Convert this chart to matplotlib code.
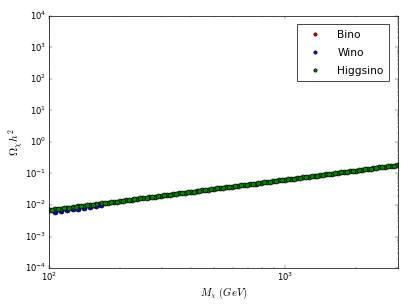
import matplotlib
matplotlib.use('Agg')
import matplotlib.pyplot as plt

# Higgsino-like points, two interleaved scans across the whole mass range
higgsino_mass_a = [100, 106, 112, 119, 126, 133, 141, 149, 158, 168, 178, 188, 200, 211, 224,
                   237, 251, 266, 282, 299, 316, 335, 355, 376, 398, 422, 447, 473, 501, 531,
                   562, 596, 631, 668, 708, 750, 794, 841, 891, 944, 1000, 1059, 1122, 1189, 1259,
                   1334, 1413, 1496, 1585, 1679, 1778, 1884, 1995, 2113, 2239, 2371, 2512, 2661, 2818, 2985]
higgsino_omega_a = [0.0068, 0.0072, 0.0076, 0.0080, 0.0085, 0.0090, 0.0095, 0.0101, 0.0106, 0.0113,
                    0.0119, 0.0126, 0.0133, 0.0141, 0.0149, 0.0157, 0.0166, 0.0176, 0.0186, 0.0197,
                    0.0208, 0.0220, 0.0233, 0.0246, 0.0260, 0.0275, 0.0291, 0.0307, 0.0325, 0.0344,
                    0.0364, 0.0384, 0.0406, 0.0430, 0.0454, 0.0481, 0.0508, 0.0537, 0.0568, 0.0601,
                    0.0635, 0.0672, 0.0710, 0.0751, 0.0794, 0.0840, 0.0888, 0.0939, 0.0993, 0.105,
                    0.111, 0.117, 0.124, 0.131, 0.139, 0.147, 0.155, 0.164, 0.174, 0.184]
higgsino_mass_b = [103, 109, 116, 122, 130, 137, 145, 154, 173, 183, 194, 205, 218, 230,
                   244, 259, 274, 290, 307, 325, 345, 365, 387, 410, 434, 460, 487, 516, 546,
                   579, 613, 649, 688, 729, 772, 818, 866, 917, 972, 1029, 1090, 1155, 1223, 1296,
                   1373, 1454, 1540, 1631, 1728, 1830, 1939, 2054, 2175, 2304, 2441, 2586, 2739, 2900]
higgsino_omega_b = [0.0070, 0.0074, 0.0078, 0.0083, 0.0087, 0.0092, 0.0098, 0.0103, 0.0116,
                    0.0122, 0.0129, 0.0137, 0.0145, 0.0153, 0.0162, 0.0171, 0.0181, 0.0191, 0.0202,
                    0.0214, 0.0226, 0.0239, 0.0253, 0.0267, 0.0283, 0.0299, 0.0316, 0.0334, 0.0354,
                    0.0374, 0.0395, 0.0418, 0.0442, 0.0467, 0.0494, 0.0522, 0.0552, 0.0584, 0.0618,
                    0.0653, 0.0691, 0.0730, 0.0772, 0.0816, 0.0863, 0.0913, 0.0965, 0.102, 0.108,
                    0.114, 0.121, 0.128, 0.135, 0.143, 0.151, 0.160, 0.169, 0.179]

bino_mass = [100, 163]
bino_omega = [0.0068, 0.0110]

wino_mass = [106, 112, 119, 126, 133, 141, 149, 158, 166]
wino_omega = [0.0061, 0.0064, 0.0068, 0.0072, 0.0076, 0.0081, 0.0086, 0.0091, 0.0100]

plt.style.use('classic')
fig = plt.figure(figsize=(409 / 51.2, 307 / 51.2), dpi=51.2, facecolor='white')
ax = fig.add_subplot(111)
fig.subplots_adjust(left=0.12, right=0.972, bottom=0.127, top=0.948)

style = dict(linestyle='none', marker='o', mec='k', mew=1.0, ms=7)
ax.plot(bino_mass, bino_omega, color='r', label='Bino', **style)
ax.plot(wino_mass, wino_omega, color='b', label='Wino', **style)
ax.plot(higgsino_mass_a + higgsino_mass_b, higgsino_omega_a + higgsino_omega_b,
        color='g', label='Higgsino', **style)

ax.set_xscale('log')
ax.set_yscale('log')
ax.set_xlim(100, 3000)
ax.set_ylim(1e-4, 1e4)
ax.set_xlabel(r'$M_\chi\ (GeV)$', fontsize=15, labelpad=4)
ax.set_ylabel(r'$\Omega_\chi h^2$', fontsize=16, labelpad=-1)

ax.legend(loc='upper right', numpoints=1, fontsize=15, markerscale=0.65,
          borderaxespad=0.8, borderpad=0.5, labelspacing=0.75,
          handlelength=2.5, handletextpad=0.8)

fig.savefig('out.png', dpi=51.2, facecolor='white')
